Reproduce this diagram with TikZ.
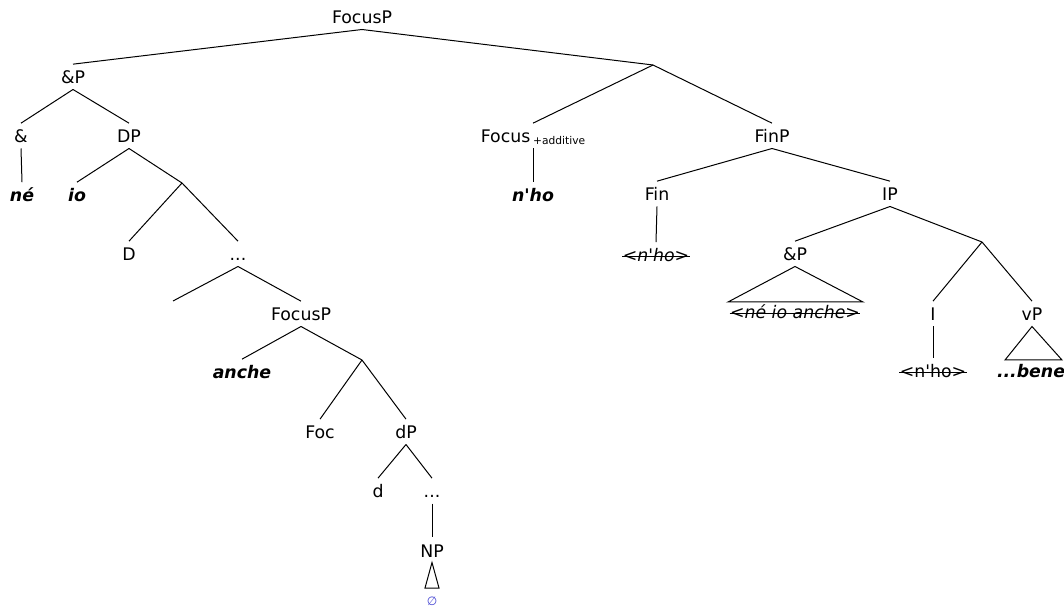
\documentclass[tikz,border=0pt]{standalone}
\usepackage{fontspec}
\setmainfont{DejaVu Sans}
\definecolor{nullblue}{RGB}{70,70,210}
\newcommand{\apos}{\textquotesingle}
\begin{document}
\begin{tikzpicture}[x=0.75pt,y=-0.75pt, line width=0.75pt,
  t/.style={anchor=base, inner sep=0pt, text height=14.5pt, text depth=3.75pt, font=\fontsize{13}{15}\selectfont},
  w/.style={t, font=\fontsize{13}{15}\selectfont\bfseries\itshape},
  s/.style={t, font=\fontsize{13}{15}\selectfont\itshape},
  strike/.style={line width=0.7pt}]
\useasboundingbox (0,0) rectangle (1064,616);
% left part
\node[t] (FocusP) at (362,24) {FocusP};
\coordinate (b1) at (653,65);
\node[t] (AndP) at (73,84) {\&P};
\node[t] (And) at (21,143) {\&};
\node[t] (DP) at (129,143) {DP};
\node[w] (ne) at (22,202) {né};
\node[w] (io) at (77,202) {io};
\coordinate (b2) at (182,183);
\node[t] (D) at (129,261) {D};
\node[t] (dots1) at (238,261) {...};
\coordinate (e1) at (173,301);
\node[t] (FocusP2) at (301,321) {FocusP};
\node[w] (anche) at (242,379) {anche};
\coordinate (b3) at (362,360);
\node[t] (Foc) at (320,439) {Foc};
\node[t] (dP) at (406,439) {dP};
\node[t] (d) at (378,498) {d};
\node[t] (dots2) at (432,498) {...};
\node[t] (NP) at (432,557) {NP};
\coordinate (nl) at (425,588);
\coordinate (nr) at (439,588);
\node[anchor=base, inner sep=0pt, text=nullblue, font=\fontsize{9}{10}\selectfont] (null) at (432,605) {∅};
% right part
\node[t] (Focus) at (533,143) {Focus\,{\fontsize{8}{9}\selectfont\raisebox{-1.5pt}{+additive}}};
\node[w] (nho1) at (533,202) {n\apos ho};
\node[t] (FinP) at (772,143) {FinP};
\node[t] (Fin) at (657,201) {Fin};
\node[t] (IP) at (890,201) {IP};
\node[s] (nho2) at (656,262) {<n\apos ho>};
\node[t] (AndP2) at (795,261) {\&P};
\coordinate (al) at (728,302);
\coordinate (ar) at (863,302);
\node[s] (neioanche) at (795,319) {<né io anche>};
\coordinate (b4) at (982,242);
\node[t] (I) at (933,321) {I};
\node[t] (vP) at (1032,321) {vP};
\node[t] (nho3) at (933,378) {<n\apos ho>};
\coordinate (vl) at (1005,360);
\coordinate (vr) at (1062,360);
\node[w] (bene) at (1031,378) {...bene};
% edges
\draw (FocusP.south) -- (AndP.north);
\draw (FocusP.south) -- (b1);
\draw (AndP.south) -- (And.north);
\draw (AndP.south) -- (DP.north);
\draw (And.south) -- (ne.north);
\draw (DP.south) -- (io.north);
\draw (DP.south) -- (b2);
\draw (b2) -- (D.north);
\draw (b2) -- (dots1.north);
\draw (dots1.south) -- (e1);
\draw (dots1.south) -- (FocusP2.north);
\draw (FocusP2.south) -- (anche.north);
\draw (FocusP2.south) -- (b3);
\draw (b3) -- (Foc.north);
\draw (b3) -- (dP.north);
\draw (dP.south) -- (d.north);
\draw (dP.south) -- (dots2.north);
\draw (dots2.south) -- (NP.north);
\draw (NP.south) -- (nl) -- (nr) -- cycle;
\draw (b1) -- (Focus.north);
\draw (b1) -- (FinP.north);
\draw (Focus.south) -- (nho1.north);
\draw (FinP.south) -- (Fin.north);
\draw (FinP.south) -- (IP.north);
\draw (Fin.south) -- (nho2.north);
\draw (IP.south) -- (AndP2.north);
\draw (IP.south) -- (b4);
\draw (AndP2.south) -- (al) -- (ar) -- cycle;
\draw (b4) -- (I.north);
\draw (b4) -- (vP.north);
\draw (I.south) -- (nho3.north);
\draw (vP.south) -- (vl) -- (vr) -- cycle;
% strike-through
\draw[strike] ([yshift=4.5pt]nho2.base west) -- ([yshift=4.5pt]nho2.base east);
\draw[strike] ([yshift=4.5pt]neioanche.base west) -- ([yshift=4.5pt]neioanche.base east);
\draw[strike] ([yshift=4.5pt]nho3.base west) -- ([yshift=4.5pt]nho3.base east);
\end{tikzpicture}
\end{document}
